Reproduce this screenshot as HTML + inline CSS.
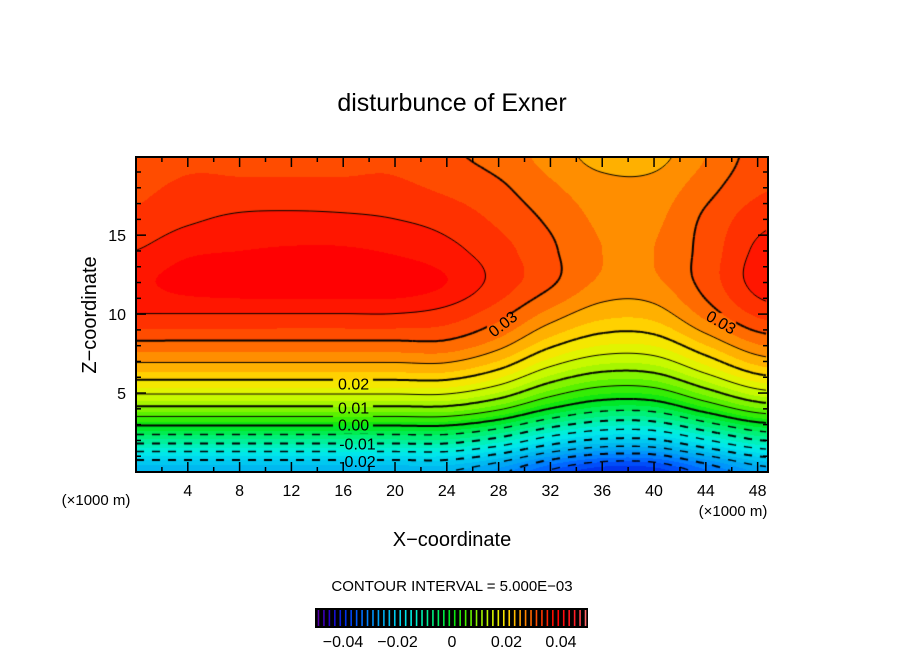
<!DOCTYPE html>
<html><head><meta charset="utf-8"><style>
body{margin:0;background:#fff;width:904px;height:654px;overflow:hidden;position:relative;font-family:"Liberation Sans",sans-serif}
canvas{position:absolute;left:136px;top:157px}
svg{position:absolute;left:0;top:0}
</style></head><body>
<canvas id="cv" width="632" height="315"></canvas>
<svg id="sv" width="904" height="654">
<text x="452" y="111" font-size="25" text-anchor="middle">disturbunce of Exner</text>
<text transform="translate(96,315) rotate(-90)" font-size="20" text-anchor="middle">Z−coordinate</text>
<text x="452" y="546" font-size="20" text-anchor="middle">X−coordinate</text>
<text x="96" y="505" font-size="15" text-anchor="middle">(×1000 m)</text>
<text x="733" y="516" font-size="15" text-anchor="middle">(×1000 m)</text>
<text x="452" y="591" font-size="15" text-anchor="middle">CONTOUR INTERVAL = 5.000E−03</text>
<g id="ax"></g>
<g id="cb"></g>
<g id="lb"></g>
</svg>
<script>
const xCoords=[0,4,8,12,16,20,24,28,32,36,40,44,48,52];
const zCoords=[0,2,4,6,8,10,12,14,16,18,20];
const row0=[-0.025,-0.025,-0.025,-0.025,-0.025,-0.025,-0.025,-0.0288,-0.0355,-0.0396,-0.0393,-0.0333,-0.0273,-0.0258];
const row2=[-0.008,-0.008,-0.008,-0.008,-0.008,-0.008,-0.008,-0.0113,-0.0171,-0.0206,-0.0204,-0.0152,-0.0100,-0.0087];
const row4=[0.009,0.009,0.009,0.009,0.009,0.009,0.009,0.0058,0.0001,-0.0036,-0.0034,0.0019,0.0071,0.0084];
const row6=[0.021,0.021,0.021,0.021,0.021,0.021,0.021,0.0178,0.0119,0.0084,0.0087,0.0139,0.0191,0.0204];
const row8=[0.029,0.029,0.029,0.029,0.029,0.029,0.029,0.026,0.0206,0.0174,0.0176,0.0224,0.0272,0.0284];
const row10=[0.035,0.035,0.035,0.035,0.035,0.035,0.034,0.031,0.0266,0.0234,0.0236,0.0284,0.033,0.034];
const row12=[0.037,0.0385,0.0391,0.0392,0.0392,0.0391,0.0375,0.034,0.0305,0.027,0.027,0.031,0.036,0.038];
const row14=[0.035,0.037,0.0375,0.0378,0.0378,0.0372,0.0358,0.0335,0.0305,0.0275,0.0275,0.031,0.0355,0.037];
const row16=[0.033,0.0345,0.0355,0.0357,0.0355,0.035,0.034,0.032,0.0295,0.027,0.027,0.0305,0.034,0.035];
const row18=[0.032,0.033,0.033,0.033,0.033,0.033,0.032,0.0305,0.028,0.026,0.026,0.029,0.032,0.033];
const row20=[0.031,0.032,0.032,0.032,0.032,0.032,0.0305,0.029,0.0265,0.024,0.024,0.0275,0.031,0.032];
const field=[row0,row2,row4,row6,row8,row10,row12,row14,row16,row18,row20];
const xTicks=[4,8,12,16,20,24,28,32,36,40,44,48];
const zTicks=[5,10,15];
const cbTicks=[-0.04,-0.02,0,0.02,0.04];
const cbTickText=["−0.04","−0.02","0","0.02","0.04"];
const labelVals=[0.02,0.01,0.00,-0.01,-0.02];
const labelText=["0.02","0.01","0.00","-0.01","-0.02"];
const labelX=[16.8,16.8,16.8,17.1,17.1];
const labelZ=[5.6,4.1,3.0,1.8,0.7];

const PL=136,PT=157,PW=632,PH=315,XMAX=48.8,ZMAX=19.95;
const sx=x=>PL+x/XMAX*PW, sz=z=>PT+PH-z/ZMAX*PH;
const NS='http://www.w3.org/2000/svg';
function mk(tag,at,parent){const e=document.createElementNS(NS,tag);for(const k in at)e.setAttribute(k,at[k]);parent.appendChild(e);return e;}

function cr(p0,p1,p2,p3,t){return p1+0.5*t*(p2-p0+t*(2*p0-5*p1+4*p2-p3+t*(3*(p1-p2)+p3-p0)));}
function g(i,j){i=Math.max(0,Math.min(zCoords.length-1,i));j=Math.max(0,Math.min(xCoords.length-1,j));return field[i][j];}
function val(x,z){
  let fx=x/4,fz=z/2;let j=Math.min(Math.floor(fx),xCoords.length-2),i=Math.min(Math.floor(fz),zCoords.length-2);
  let tx=fx-j,tz=fz-i;const r=[];
  for(let a=-1;a<3;a++)r.push(cr(g(i+a,j-1),g(i+a,j),g(i+a,j+1),g(i+a,j+2),tx));
  return cr(r[0],r[1],r[2],r[3],tz);
}
const stops=[[-0.05,[96,0,160]],[-0.045,[40,0,200]],[-0.04,[0,40,230]],[-0.035,[0,90,255]],[-0.03,[0,140,255]],[-0.025,[0,176,240]],[-0.02,[0,208,240]],[-0.015,[0,238,232]],[-0.01,[0,240,170]],[-0.005,[0,240,100]],[0,[0,228,20]],[0.005,[70,240,0]],[0.01,[150,245,0]],[0.015,[215,250,0]],[0.02,[255,225,0]],[0.025,[255,160,0]],[0.03,[255,90,0]],[0.035,[255,35,0]],[0.0385,[255,0,0]],[0.045,[255,30,40]],[0.05,[255,120,120]]];
function col(v){
  if(v<=stops[0][0])return stops[0][1];
  for(let k=1;k<stops.length;k++){if(v<=stops[k][0]){const a=stops[k-1],b=stops[k];const t=(v-a[0])/(b[0]-a[0]);return a[1].map((c,n)=>Math.round(c+(b[1][n]-c)*t));}}
  return stops[stops.length-1][1];
}
const cv=document.getElementById('cv'),ctx=cv.getContext('2d');
const img=ctx.createImageData(PW,PH);
const V=[];
for(let py=0;py<PH;py++){V.push([]);for(let px=0;px<PW;px++){
  const x=(px+0.5)/PW*XMAX,z=(PH-py-0.5)/PH*ZMAX;const v=val(x,z);V[py].push(v);
  const q=Math.floor(v/0.0025)*0.0025+0.00125;const c=col(q);const o=(py*PW+px)*4;
  img.data[o]=c[0];img.data[o+1]=c[1];img.data[o+2]=c[2];img.data[o+3]=255;}}
ctx.putImageData(img,0,0);
const S=2;
for(let L=-0.04;L<=0.0451;L+=0.005){
  const lev=Math.round(L*1000)/1000;const major=Math.abs(Math.round(lev*1000)%10)===0;
  ctx.strokeStyle='#000';ctx.lineWidth=major?2:(lev<0?1.4:1);
  for(let py=0;py+S<PH;py+=S)for(let px=0;px+S<PW;px+=S){
    const c=[[px,py,V[py][px]],[px+S,py,V[py][px+S]],[px+S,py+S,V[py+S][px+S]],[px,py+S,V[py+S][px]]];
    const pts=[];
    for(let k=0;k<4;k++){const a=c[k],b=c[(k+1)%4];if((a[2]-lev)*(b[2]-lev)<0){const t=(lev-a[2])/(b[2]-a[2]);pts.push([a[0]+(b[0]-a[0])*t,a[1]+(b[1]-a[1])*t]);}}
    if(pts.length>=2){
      const mx=(pts[0][0]+pts[1][0])/2;
      if(lev<0&&Math.floor(mx/8)%2===1)continue;
      ctx.beginPath();ctx.moveTo(pts[0][0],pts[0][1]);ctx.lineTo(pts[1][0],pts[1][1]);
      if(pts.length===4){ctx.moveTo(pts[2][0],pts[2][1]);ctx.lineTo(pts[3][0],pts[3][1]);}
      ctx.stroke();}
  }
}
const lb=document.getElementById('lb');
function label(x,y,txt,rot,w){
  ctx.putImageData(img,0,0,x-PL-w/2,y-PT-9,w,18);
  const t=mk('text',{x:x,y:y+6,'font-size':16,'text-anchor':'middle',transform:'rotate('+rot+' '+x+' '+y+')'},lb);
  
  
  t.textContent=txt;
}
for(let k=0;k<labelVals.length;k++)label(sx(labelX[k]),sz(labelZ[k]),labelText[k],0,40);
label(sx(28.3),sz(9.4),'0.03',-38,30);
label(sx(45.2),sz(9.5),'0.03',30,30);
const ax=document.getElementById('ax');
mk('rect',{x:PL,y:PT,width:PW,height:PH,fill:'none',stroke:'#000','stroke-width':2},ax);
for(let x=2;x<XMAX;x+=2){const m=x%4===0,l=m?10:5;
  mk('line',{x1:sx(x),x2:sx(x),y1:PT+PH,y2:PT+PH-l,stroke:'#000','stroke-width':1.5},ax);
  mk('line',{x1:sx(x),x2:sx(x),y1:PT,y2:PT+l,stroke:'#000','stroke-width':1.5},ax);}
for(let z=1;z<ZMAX;z+=1){const m=z%5===0,l=m?10:5;
  mk('line',{x1:PL,x2:PL+l,y1:sz(z),y2:sz(z),stroke:'#000','stroke-width':1.5},ax);
  mk('line',{x1:PL+PW,x2:PL+PW-l,y1:sz(z),y2:sz(z),stroke:'#000','stroke-width':1.5},ax);}
xTicks.forEach(x=>{const t=mk('text',{x:sx(x),y:496,'font-size':16,'text-anchor':'middle'},ax);
  
  
  t.textContent=x;});
zTicks.forEach(z=>{const t=mk('text',{x:126,y:sz(z)+6,'font-size':16,'text-anchor':'end'},ax);
  
  
  t.textContent=z;});
const cb=document.getElementById('cb');
const cbx=v=>452+v/0.02*54.5;
mk('rect',{x:315,y:608,width:273,height:20,fill:'#000'},cb);
for(let v=-0.049;v<=0.0495;v+=0.002){const c=col(v);
  const l=mk('line',{x1:cbx(v),x2:cbx(v),y1:610,y2:626,stroke:'rgb('+c.join(',')+')','stroke-width':1.6},cb);
  
  }
cbTicks.forEach((v,k)=>{const t=mk('text',{x:cbx(v),y:647,'font-size':16,'text-anchor':'middle'},cb);
  
  
  t.textContent=cbTickText[k];});
</script>
</body></html>
